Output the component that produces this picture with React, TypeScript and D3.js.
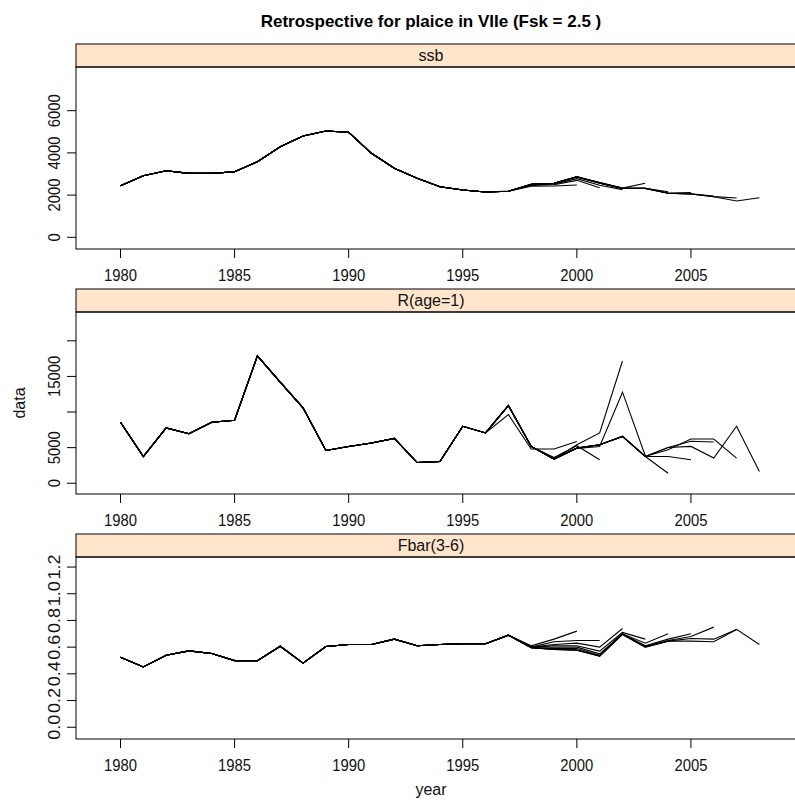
import * as d3 from "d3";

const TITLE = "Retrospective for plaice in VIIe (Fsk = 2.5 )";
const STRIP_FILL = "#FFE5CC";
const FONT = "'Liberation Sans', Arial, sans-serif";

// common years 1980-1996, then each retrospective run carries on from 1997
const baseYears = d3.range(1980, 1997);
const tailStart = 1997;
const runEnds = [2000, 2001, 2002, 2003, 2004, 2005, 2006, 2007, 2008];

const ssbBase = [2446, 2920, 3157, 3030, 3030, 3110, 3583, 4294, 4800, 5039, 4977, 3982, 3270, 2797, 2398, 2242, 2147];
const ssbTails = [
  [2180, 2420, 2430, 2480],
  [2180, 2460, 2490, 2700, 2350],
  [2190, 2490, 2520, 2780, 2470, 2260],
  [2180, 2510, 2550, 2850, 2560, 2330, 2560],
  [2180, 2510, 2560, 2870, 2600, 2330, 2320, 2160],
  [2180, 2510, 2560, 2870, 2590, 2320, 2310, 2100, 2120],
  [2180, 2510, 2560, 2870, 2580, 2320, 2320, 2090, 2060, 1960],
  [2180, 2510, 2560, 2870, 2570, 2320, 2320, 2090, 2050, 1930, 1860],
  [2180, 2512, 2560, 2873, 2560, 2323, 2323, 2086, 2052, 1925, 1720, 1877],
];

const recBase = [8557, 3756, 7766, 6961, 8557, 8840, 17880, 14200, 10590, 4600, 5170, 5650, 6300, 2910, 3050, 8000, 7060];
const recTails = [
  [9644, 4800, 4800, 5875],
  [10900, 5170, 3600, 5270, 3290],
  [10900, 5170, 3390, 5400, 7060, 17170],
  [10900, 5170, 3390, 4900, 5170, 12790, 3855],
  [10915, 5170, 3390, 4940, 5410, 6580, 3760, 1410],
  [10915, 5170, 3390, 4940, 5410, 6580, 3760, 3760, 3290],
  [10915, 5170, 3390, 4940, 5410, 6580, 3760, 5030, 5900, 5800],
  [10915, 5170, 3390, 4940, 5410, 6580, 3760, 4700, 6210, 6210, 3530],
  [10915, 5170, 3390, 4940, 5410, 6580, 3760, 5030, 5170, 3530, 8000, 1640],
];

const fbarBase = [0.524, 0.452, 0.539, 0.572, 0.552, 0.499, 0.499, 0.607, 0.48, 0.605, 0.62, 0.62, 0.66, 0.61, 0.62, 0.625, 0.625];
const fbarTails = [
  [0.69, 0.61, 0.66, 0.72],
  [0.69, 0.6, 0.64, 0.65, 0.65],
  [0.69, 0.6, 0.62, 0.63, 0.6, 0.74],
  [0.69, 0.6, 0.61, 0.61, 0.57, 0.71, 0.66],
  [0.69, 0.6, 0.6, 0.6, 0.55, 0.7, 0.63, 0.7],
  [0.69, 0.595, 0.59, 0.59, 0.54, 0.7, 0.61, 0.66, 0.7],
  [0.69, 0.595, 0.585, 0.58, 0.535, 0.7, 0.605, 0.65, 0.68, 0.75],
  [0.69, 0.595, 0.582, 0.577, 0.532, 0.695, 0.6, 0.645, 0.665, 0.66, 0.733],
  [0.688, 0.595, 0.582, 0.577, 0.532, 0.695, 0.6, 0.645, 0.645, 0.64, 0.733, 0.62],
];

const xTicks = [1980, 1985, 1990, 1995, 2000, 2005];

const panels = [
  { name: "ssb", base: ssbBase, tails: ssbTails, domain: [-554, 8071], top: 44, ticks: [0, 2000, 4000, 6000], labels: ["0", "2000", "4000", "6000"] },
  { name: "R(age=1)", base: recBase, tails: recTails, domain: [-1511, 24047], top: 289, ticks: [0, 5000, 10000, 15000, 20000], labels: ["0", "5000", "", "15000", ""] },
  { name: "Fbar(3-6)", base: fbarBase, tails: fbarTails, domain: [-0.0881, 1.2753], top: 534, ticks: [0, 0.2, 0.4, 0.6, 0.8, 1.0, 1.2], labels: ["0.0", "0.2", "0.4", "0.6", "0.8", "1.0", "1.2"] },
];

const width = 795;
const height = 809;
const left = 76;
const right = 800;
const stripH = 23;
const plotH = 182;
const tickLen = 9;
const fs = 16;

// the original device font is narrow: squeeze numeric labels to its widths
const labelLen = (s: string) => s.replace(/\./g, "").length * 8.25 + (s.split(".").length - 1) * 8.5;

const x = d3.scaleLinear().domain([1978.05, 2009.78]).range([left, right]);

const Panel = ({ p }: { p: any }) => {
  const plotTop = p.top + stripH;
  const plotBottom = plotTop + plotH;
  const y = d3.scaleLinear().domain(p.domain).range([plotBottom, plotTop]);
  const line = d3
    .line<[number, number]>()
    .x((d) => x(d[0]))
    .y((d) => y(d[1]));

  const runs = p.tails.map((tail: number[], i: number) => {
    const years = baseYears.concat(d3.range(tailStart, runEnds[i] + 1));
    const vals = p.base.concat(tail);
    return years.map((yr: number, j: number) => [yr, vals[j]] as [number, number]);
  });

  return (
    <g>
      <rect x={left} y={p.top} width={right - left} height={stripH} fill={STRIP_FILL} stroke="#000" />
      <text x={431} y={p.top + 17} textAnchor="middle" fontSize={fs} fontFamily={FONT} fill="#111">
        {p.name}
      </text>
      <rect x={left} y={plotTop} width={right - left} height={plotH} fill="none" stroke="#000" />
      {runs.map((r: [number, number][], i: number) => (
        <path key={i} d={line(r) as string} fill="none" stroke="#000" strokeWidth={1.1} />
      ))}
      {p.ticks.map((t: number, i: number) => (
        <g key={"y" + i}>
          <line x1={left - tickLen} x2={left} y1={y(t)} y2={y(t)} stroke="#000" />
          {p.labels[i] && (
            <text
              transform={`translate(${left - 16},${y(t)}) rotate(-90)`}
              textAnchor="middle"
              fontSize={fs}
              fontFamily={FONT}
              fill="#111"
              textLength={labelLen(p.labels[i])}
              lengthAdjust="spacingAndGlyphs"
            >
              {p.labels[i]}
            </text>
          )}
        </g>
      ))}
      {xTicks.map((t) => (
        <g key={"x" + t}>
          <line x1={x(t)} x2={x(t)} y1={plotBottom} y2={plotBottom + tickLen} stroke="#000" />
          <text
            x={x(t)}
            y={plotBottom + 32}
            textAnchor="middle"
            fontSize={fs}
            fontFamily={FONT}
            fill="#111"
            textLength={labelLen(String(t))}
            lengthAdjust="spacingAndGlyphs"
          >
            {t}
          </text>
        </g>
      ))}
    </g>
  );
};

export default function App() {
  return (
    <svg width={width} height={height} style={{ position: "absolute", left: 0, top: 0, background: "#fff" }}>
      <rect width={width} height={height} fill="#fff" />
      <text x={431} y={27} textAnchor="middle" fontSize={17} fontWeight="bold" fontFamily={FONT}>
        {TITLE}
      </text>
      {panels.map((p) => (
        <Panel key={p.name} p={p} />
      ))}
      <text transform="translate(25,403) rotate(-90)" textAnchor="middle" fontSize={fs} fontFamily={FONT} fill="#111">
        data
      </text>
      <text x={431} y={795} textAnchor="middle" fontSize={fs} fontFamily={FONT} fill="#111">
        year
      </text>
    </svg>
  );
}
